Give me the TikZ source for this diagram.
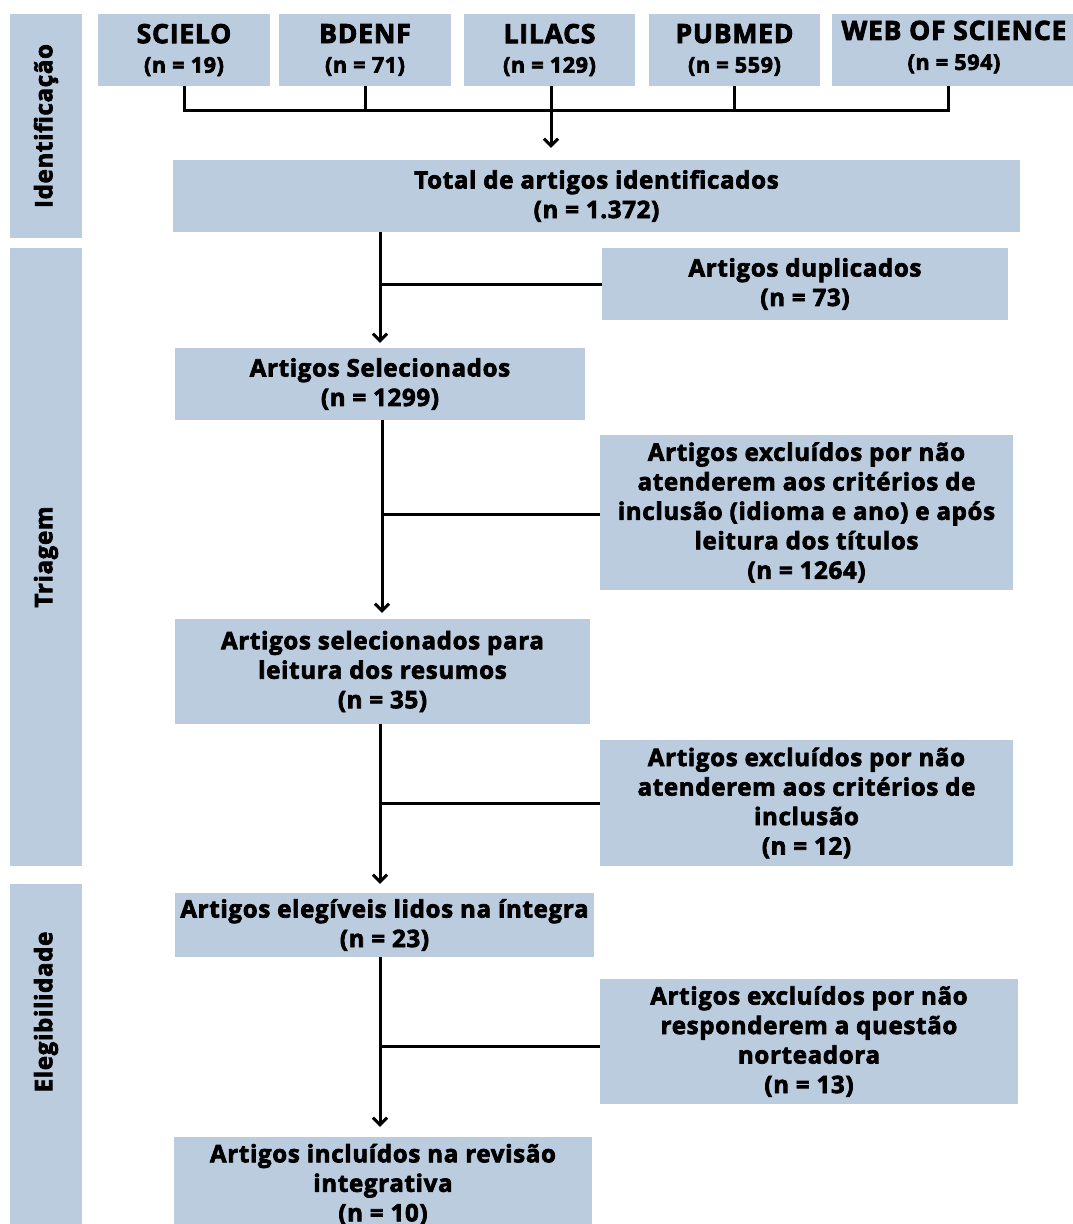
\documentclass[tikz,border=0pt]{standalone}
\usepackage{fontspec}
\setmainfont{Open Sans}[BoldFeatures={FakeBold=3,LetterSpace=3}]
\usetikzlibrary{arrows.meta}
\definecolor{boxblue}{RGB}{186,204,222}
\begin{document}
\begin{tikzpicture}[x=1pt,y=-1pt,
  box/.style={fill=boxblue,draw=none,inner sep=0pt,align=center,anchor=center,
    font=\fontsize{24}{29.5}\selectfont\bfseries},
  srcbox/.style={box,minimum height=72pt},
  lnk/.style={line width=3pt,black},
  arr/.style={lnk,-{Straight Barb[length=7pt,width=14pt,line width=3pt]}},
  sidelbl/.style={inner sep=0pt,rotate=90,anchor=center,font=\fontsize{24}{26}\selectfont\bfseries}]
\useasboundingbox (0,0) rectangle (1073,1224);
\fill[white] (0,0) rectangle (1073,1224);
% side phase boxes
\node[box,minimum width=72pt,minimum height=224pt] (sid) at (46,126) {};
\node[sidelbl] (lid) at (46,126) {Identificação};
\node[box,minimum width=72pt,minimum height=618pt] (stri) at (46,557) {};
\node[sidelbl] (ltri) at (46,557) {Triagem};
\node[box,minimum width=72pt,minimum height=356pt] (sele) at (46,1062) {};
\node[sidelbl] (lele) at (46,1012) {Elegibilidade};
% sources
\newcommand{\src}[2]{{\fontsize{26.5}{30}\selectfont #1}\\{\fontsize{21.5}{30}\selectfont #2}}
\node[srcbox,minimum width=172pt] (scielo) at (184,50) {\src{SCIELO}{(n = 19)}};
\node[srcbox,minimum width=172pt] (bdenf) at (365,50) {\src{BDENF}{(n = 71)}};
\node[srcbox,minimum width=171pt] (lilacs) at (549.5,50) {\src{LILACS}{(n = 129)}};
\node[srcbox,minimum width=171pt] (pubmed) at (734.5,50) {\src{PUBMED}{(n = 559)}};
\node[srcbox,minimum width=248pt] (wos) at (956,50) {};
\node[inner sep=0pt,align=center,font=\fontsize{22.5}{30}\selectfont\bfseries] (wost) at (954,47) {\src{WEB OF SCIENCE}{(n = 594)}};
% main flow
\node[box,minimum width=847pt,minimum height=72pt] (total) at (596.5,196) {Total de artigos identificados\\(n = 1.372)};
\node[box,minimum width=406pt,minimum height=72pt] (dup) at (805,284) {Artigos duplicados\\(n = 73)};
\node[box,minimum width=410pt,minimum height=72pt] (sel) at (380,384) {Artigos Selecionados\\(n = 1299)};
\node[box,minimum width=413pt,minimum height=155pt] (ex1) at (806.5,512.5) {Artigos excluídos por não\\atenderem aos critérios de\\inclusão (idioma e ano) e após\\leitura dos títulos\\(n = 1264)};
\node[box,minimum width=415pt,minimum height=105pt] (res) at (382.5,671.5) {Artigos selecionados para\\leitura dos resumos\\(n = 35)};
\node[box,minimum width=413pt,minimum height=126pt] (ex2) at (806.5,803) {Artigos excluídos por não\\atenderem aos critérios de\\inclusão\\(n = 12)};
\node[box,minimum width=419pt,minimum height=64pt] (eleg) at (384.5,925) {Artigos elegíveis lidos na íntegra\\(n = 23)};
\node[box,minimum width=418pt,minimum height=125pt] (ex3) at (809,1041.5) {Artigos excluídos por não\\responderem a questão\\norteadora\\(n = 13)};
\node[box,minimum width=418pt,minimum height=95pt] (incl) at (383,1184.5) {Artigos incluídos na revisão\\integrativa\\(n = 10)};
% source connectors
\coordinate (j) at (551,110);
\draw[lnk] (scielo.south) |- (j) -| (wos.south -| 948,0);
\draw[lnk] (bdenf.south) -- (bdenf.south |- j);
\draw[lnk] (pubmed.south) -- (pubmed.south |- j);
\draw[arr] (lilacs.south -| j) -- ([yshift=12pt]total.north -| j);
% main flow connectors
\draw[arr] (total.south -| 380,0) -- ([yshift=5pt]sel.north -| 380,0);
\draw[lnk] (dup.west) -- (dup.west -| 380,0);
\draw[arr] (sel.south -| 382,0) -- ([yshift=6pt]res.north -| 382,0);
\draw[lnk] ([yshift=-2pt]ex1.west) -- ([yshift=-2pt]ex1.west -| 382,0);
\draw[arr] (res.south -| 380,0) -- ([yshift=9pt]eleg.north -| 380,0);
\draw[lnk] (ex2.west) -- (ex2.west -| 380,0);
\draw[arr] (eleg.south -| 380,0) -- ([yshift=10pt]incl.north -| 380,0);
\draw[lnk] ([yshift=-5pt]ex3.west) -- ([yshift=-5pt]ex3.west -| 380,0);
\end{tikzpicture}
\end{document}
